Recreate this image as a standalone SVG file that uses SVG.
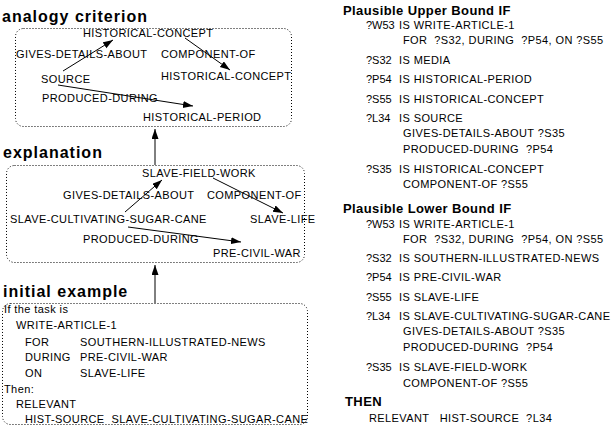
<svg xmlns="http://www.w3.org/2000/svg" width="616" height="427" viewBox="0 0 616 427">
<style>
text{font-family:"Liberation Sans",Arial,sans-serif;font-size:11px;letter-spacing:0.4px;fill:#000}
.v{letter-spacing:0}
.h{font-weight:bold;font-size:16px;letter-spacing:1px}
.h2{font-weight:bold;font-size:13px;letter-spacing:0.4px}
.box{fill:none;stroke:#000;stroke-width:1;stroke-dasharray:1 2}
.c line{stroke:#000;stroke-width:1}
</style>
<defs>
<marker id="ah" markerUnits="userSpaceOnUse" markerWidth="11" markerHeight="8" refX="10" refY="3.5" orient="auto"><path d="M0,0 L10,3.5 L0,7 z" fill="#000"/></marker>
</defs>
<g id="analogy-criterion">
<text class="h" x="2" y="22">analogy criterion</text>
<rect class="box" x="15.5" y="28.5" width="276" height="98" rx="8"/>
<text x="83" y="37">HISTORICAL-CONCEPT</text>
<text x="16" y="58">GIVES-DETAILS-ABOUT</text>
<text x="161" y="58">COMPONENT-OF</text>
<text x="41" y="83">SOURCE</text>
<text x="161" y="80">HISTORICAL-CONCEPT</text>
<text x="42" y="102">PRODUCED-DURING</text>
<text x="143" y="121">HISTORICAL-PERIOD</text>
</g>
<g id="explanation">
<text class="h" x="3" y="158">explanation</text>
<rect class="box" x="6.5" y="165.5" width="298" height="97" rx="8"/>
<text x="142" y="177">SLAVE-FIELD-WORK</text>
<text x="63" y="199">GIVES-DETAILS-ABOUT</text>
<text x="207" y="199">COMPONENT-OF</text>
<text x="10" y="223">SLAVE-CULTIVATING-SUGAR-CANE</text>
<text x="250" y="223">SLAVE-LIFE</text>
<text x="83" y="243">PRODUCED-DURING</text>
<text x="213" y="257">PRE-CIVIL-WAR</text>
</g>
<g id="initial-example">
<text class="h" x="3" y="297">initial example</text>
<rect class="box" x="2.5" y="303.5" width="305" height="121" rx="8"/>
<text x="4" y="313">If the task is</text>
<text x="16" y="329">WRITE-ARTICLE-1</text>
<text x="25" y="346">FOR</text><text x="80" y="346">SOUTHERN-ILLUSTRATED-NEWS</text>
<text x="25" y="361">DURING</text><text x="80" y="361">PRE-CIVIL-WAR</text>
<text x="25" y="377">ON</text><text x="80" y="377">SLAVE-LIFE</text>
<text x="4" y="393">Then:</text>
<text x="16" y="408">RELEVANT</text>
<text x="25" y="423" xml:space="preserve">HIST-SOURCE  SLAVE-CULTIVATING-SUGAR-CANE</text>
</g>
<g id="upper-bound">
<text class="h2" x="343" y="15">Plausible Upper Bound IF</text>
<text class="v" x="366" y="29">?W53</text><text x="399" y="29">IS WRITE-ARTICLE-1</text>
<text x="403" y="44" xml:space="preserve">FOR  ?S32, DURING  ?P54, ON ?S55</text>
<text class="v" x="366" y="64">?S32</text><text x="399" y="64">IS MEDIA</text>
<text class="v" x="366" y="83">?P54</text><text x="399" y="83">IS HISTORICAL-PERIOD</text>
<text class="v" x="366" y="103">?S55</text><text x="399" y="103">IS HISTORICAL-CONCEPT</text>
<text class="v" x="366" y="122">?L34</text><text x="399" y="122">IS SOURCE</text>
<text x="403" y="137">GIVES-DETAILS-ABOUT ?S35</text>
<text x="403" y="153" xml:space="preserve">PRODUCED-DURING  ?P54</text>
<text class="v" x="366" y="173">?S35</text><text x="399" y="173">IS HISTORICAL-CONCEPT</text>
<text x="403" y="188">COMPONENT-OF ?S55</text>
</g>
<g id="lower-bound">
<text class="h2" x="343" y="213">Plausible Lower Bound IF</text>
<text class="v" x="366" y="228">?W53</text><text x="399" y="228">IS WRITE-ARTICLE-1</text>
<text x="403" y="243" xml:space="preserve">FOR  ?S32, DURING  ?P54, ON ?S55</text>
<text class="v" x="366" y="262">?S32</text><text x="399" y="262">IS SOUTHERN-ILLUSTRATED-NEWS</text>
<text class="v" x="366" y="281">?P54</text><text x="399" y="281">IS PRE-CIVIL-WAR</text>
<text class="v" x="366" y="301">?S55</text><text x="399" y="301">IS SLAVE-LIFE</text>
<text class="v" x="366" y="320">?L34</text><text x="399" y="320">IS SLAVE-CULTIVATING-SUGAR-CANE</text>
<text x="403" y="335">GIVES-DETAILS-ABOUT ?S35</text>
<text x="403" y="351" xml:space="preserve">PRODUCED-DURING  ?P54</text>
<text class="v" x="366" y="371">?S35</text><text x="399" y="371">IS SLAVE-FIELD-WORK</text>
<text x="403" y="387">COMPONENT-OF ?S55</text>
<text class="h2" x="345" y="406">THEN</text>
<text x="369" y="422" xml:space="preserve">RELEVANT   HIST-SOURCE  ?L34</text>
</g>
<g id="connectors" class="c">
<line x1="63" y1="71" x2="113" y2="40" marker-end="url(#ah)"/>
<line x1="185" y1="38" x2="230" y2="70" marker-end="url(#ah)"/>
<line x1="58" y1="85" x2="193" y2="106" marker-end="url(#ah)"/>
<line x1="125" y1="212" x2="162" y2="180" marker-end="url(#ah)"/>
<line x1="213" y1="178" x2="283" y2="213" marker-end="url(#ah)"/>
<line x1="128" y1="227" x2="241" y2="242" marker-end="url(#ah)"/>
<line x1="155" y1="165" x2="155" y2="129" marker-end="url(#ah)"/>
<line x1="155" y1="303" x2="155" y2="265" marker-end="url(#ah)"/>
</g>
</svg>
